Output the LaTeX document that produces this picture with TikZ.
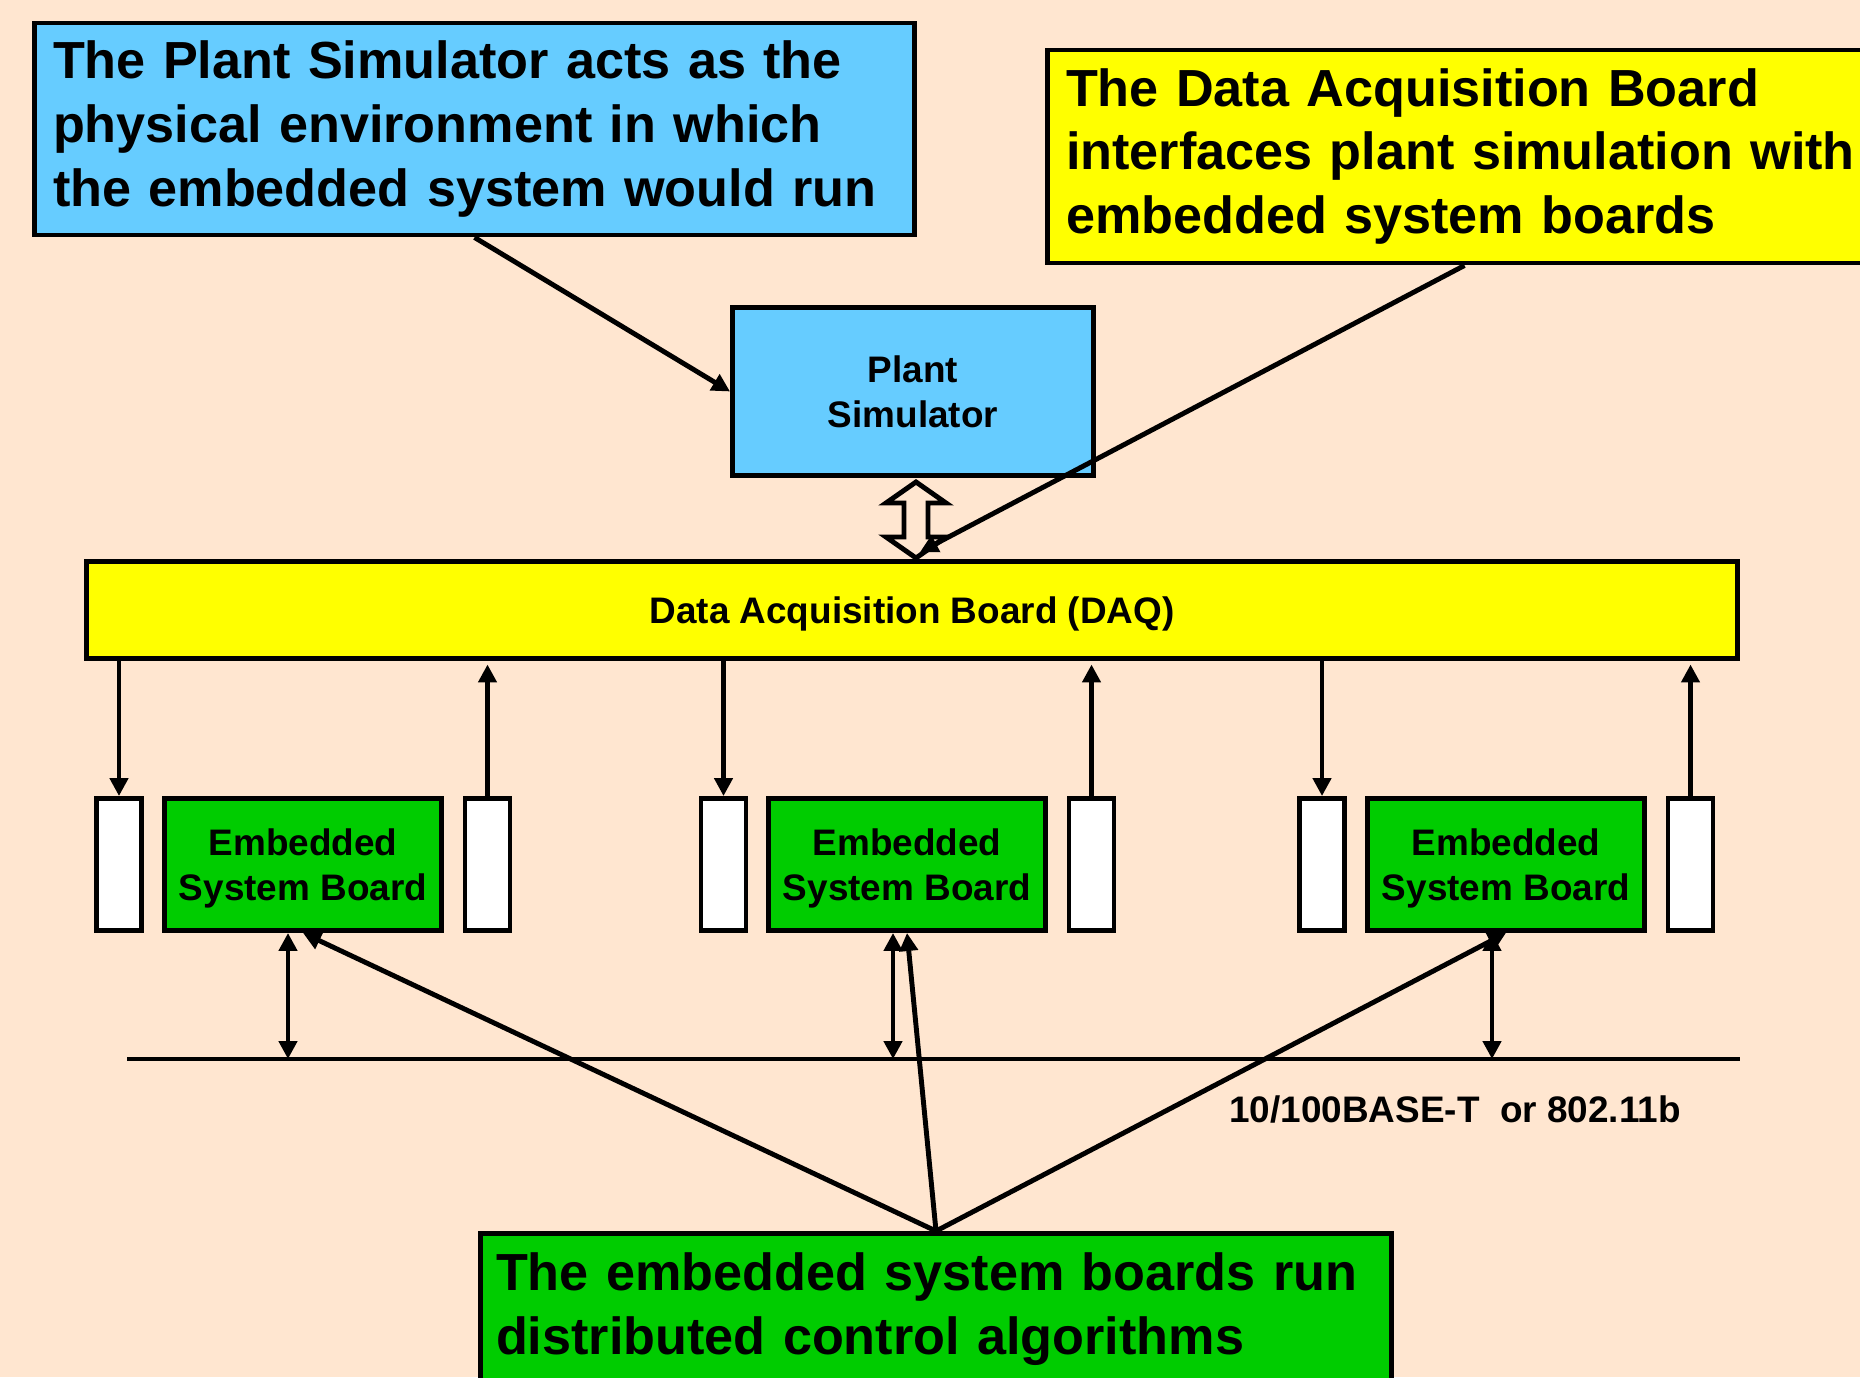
\documentclass[tikz,border=0pt]{standalone}
\usepackage{fontspec}
\setmainfont{Liberation Sans}
\usepackage{tikz}
\usetikzlibrary{arrows.meta}
\usepackage{xcolor}

\definecolor{peach}{HTML}{FFE6D0}
\definecolor{skyblue}{HTML}{66CCFF}
\definecolor{daqyellow}{HTML}{FFFF00}
\definecolor{boardgreen}{HTML}{00CC00}

\newcommand{\notefont}{\fontsize{14.85pt}{18.2pt}\selectfont\bfseries}
\newcommand{\boxfont}{\fontsize{10.5pt}{12.8pt}\selectfont\bfseries}
\newcommand{\busfont}{\fontsize{10.5pt}{12.6pt}\selectfont\bfseries}

\begin{document}
\begin{tikzpicture}[
	>={Triangle[length=0.18cm, width=0.18cm]},
	line width=1.4pt,
	block/.style={draw, inner sep=0pt, align=center, font=\boxfont},
	board/.style={block, fill=boardgreen, text depth=-1pt, minimum width=2.77cm, minimum height=1.32cm},
	port/.style={draw, fill=white, inner sep=0pt, minimum width=0.45cm, minimum height=1.32cm},
	note/.style={draw, align=left, inner xsep=0.185cm, inner ysep=0pt, font=\notefont}
]
	\useasboundingbox (0cm, 0cm) rectangle (18.6cm, -13.77cm);
	\clip (0cm, 0cm) rectangle (18.6cm, -13.77cm);
	\fill[peach] (0cm, 0cm) rectangle (18.6cm, -13.77cm);

	% simulator and acquisition board
	\draw (9.13cm, -3.915cm) node[block, fill=skyblue, minimum width=3.61cm, minimum height=1.68cm] (ps) {Plant\\Simulator}
	(9.12cm, -6.1cm) node[block, fill=daqyellow, text depth=-1pt, minimum width=16.51cm, minimum height=0.97cm] (daq) {Data Acquisition Board (DAQ)};

	% embedded boards, each with an input and an output port
	\draw (3.03cm, -8.645cm) node[board] (b1) {Embedded\\System Board}
	(1.19cm, -8.645cm) node[port] (l1) {}
	(4.875cm, -8.645cm) node[port] (r1) {}
	(9.07cm, -8.645cm) node[board] (b2) {Embedded\\System Board}
	(7.235cm, -8.645cm) node[port] (l2) {}
	(10.915cm, -8.645cm) node[port] (r2) {}
	(15.06cm, -8.645cm) node[board] (b3) {Embedded\\System Board}
	(13.22cm, -8.645cm) node[port] (l3) {}
	(16.905cm, -8.645cm) node[port] (r3) {};

	% network
	\coordinate (busa) at (1.27cm, -10.59cm);
	\coordinate (busb) at (17.4cm, -10.59cm);
	\coordinate (t1) at (2.88cm, -10.59cm);
	\coordinate (t2) at (8.93cm, -10.59cm);
	\coordinate (t3) at (14.92cm, -10.59cm);
	\draw (busa) -- (busb);
	\draw (14.55cm, -11.09cm) node[font=\busfont] (net) {10/100BASE-T\ \ or 802.11b};

	% notes
	\draw (4.745cm, -1.29cm) node[note, fill=skyblue, text width=8.43cm, minimum height=2.12cm] (nps) {The Plant Simulator acts as the\\physical environment in which\\the embedded system would run}
	(14.925cm, -1.565cm) node[note, fill=daqyellow, text width=8.53cm, minimum height=2.13cm] (ndaq) {The Data Acquisition Board\\interfaces plant simulation with\\embedded system boards}
	(9.36cm, -13.095cm) node[note, fill=boardgreen, inner xsep=0.155cm, text width=8.8cm, minimum height=1.52cm] (nesb) {The embedded system boards run\\distributed control algorithms};

	% two-way link between simulator and DAQ
	\draw[fill=peach] (9.16cm, -4.82cm) -- (9.46cm, -5.03cm) -- (9.28cm, -5.03cm) -- (9.28cm, -5.37cm)
	-- (9.46cm, -5.37cm) -- (9.16cm, -5.58cm) -- (8.86cm, -5.37cm) -- (9.04cm, -5.37cm)
	-- (9.04cm, -5.03cm) -- (8.86cm, -5.03cm) -- cycle;

	\draw[->] (l1 |- daq.south) -- (l1);
	\draw[->, shorten >=1pt] (r1) -- (r1 |- daq.south);
	\draw[->] (l2 |- daq.south) -- (l2);
	\draw[->, shorten >=1pt] (r2) -- (r2 |- daq.south);
	\draw[->] (l3 |- daq.south) -- (l3);
	\draw[->, shorten >=1pt] (r3) -- (r3 |- daq.south);

	\draw[<->] (t1 |- b1.south) -- (t1);
	\draw[<->] (t2 |- b2.south) -- (t2);
	\draw[<->] (t3 |- b3.south) -- (t3);

	\draw[->] (nps.south) -- (ps.west);
	\draw[->] ([xshift=-0.28cm]ndaq.south) -- ([xshift=0.08cm, yshift=0.07cm]daq.north);
	\draw[->] (nesb.north) -- (b1.south);
	\draw[->] (nesb.north) -- (b2.south);
	\draw[->] (nesb.north) -- (b3.south);
\end{tikzpicture}
\end{document}
